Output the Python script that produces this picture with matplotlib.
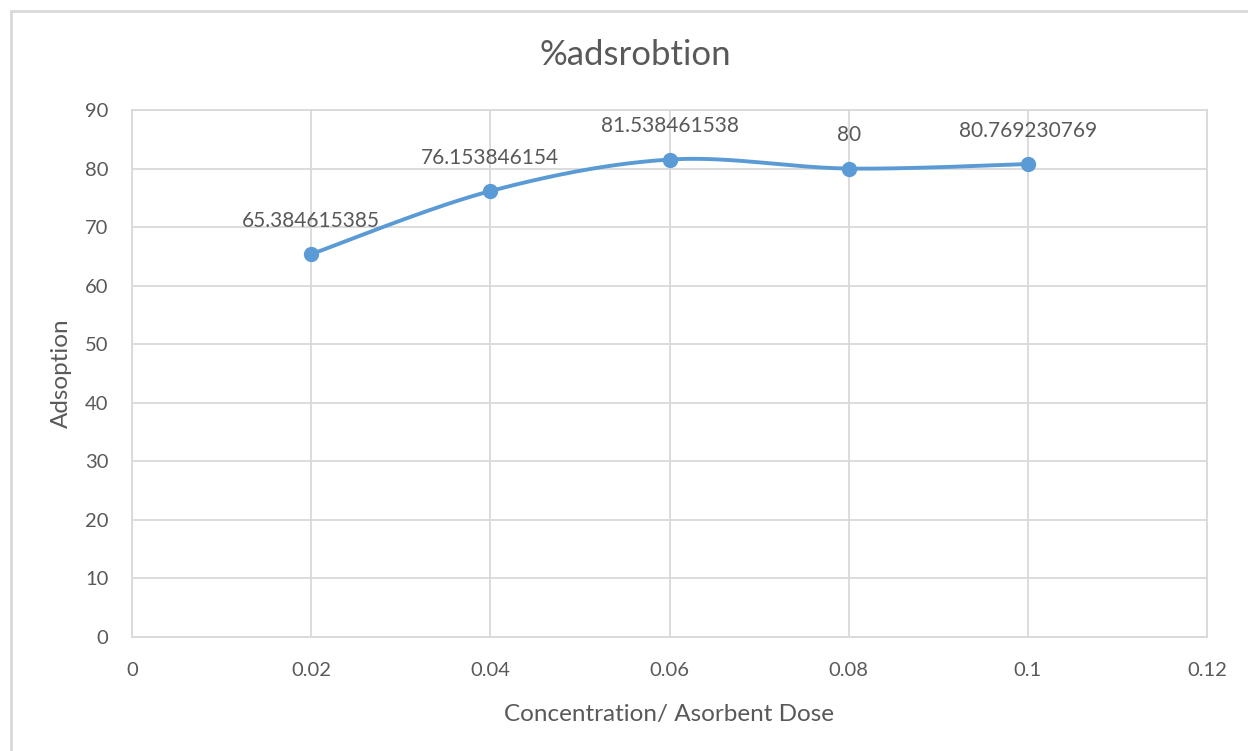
import numpy as np
import matplotlib
matplotlib.use('Agg')
import matplotlib.pyplot as plt
from matplotlib.patches import Rectangle

# adsorbent dose vs. percent adsorption
dose = [0.02, 0.04, 0.06, 0.08, 0.1]
adsorption = [65.384615385, 76.153846154, 81.538461538, 80.0, 80.769230769]
labels = ['65.384615385', '76.153846154', '81.538461538', '80', '80.769230769']

x_ticks = [0, 0.02, 0.04, 0.06, 0.08, 0.1, 0.12]
x_ticklabels = ['0', '0.02', '0.04', '0.06', '0.08', '0.1', '0.12']
y_ticks = list(range(0, 91, 10))

blue = '#5B9BD5'
text_col = '#595959'
grid_col = '#D9D9D9'

plt.rcParams['font.family'] = ['Lato', 'DejaVu Sans']


def smooth_curve(x, y, sx, sy, n=60):
    # Catmull-Rom style bezier through the points, done in screen-ish units
    px = np.asarray(x) * sx
    py = np.asarray(y) * sy
    pts = np.column_stack([px, py])
    out = []
    for i in range(len(pts) - 1):
        p0 = pts[i - 1] if i > 0 else pts[i]
        p1 = pts[i]
        p2 = pts[i + 1]
        p3 = pts[i + 2] if i + 2 < len(pts) else pts[i + 1]
        c1 = p1 + (p2 - p0) / 6.0
        c2 = p2 - (p3 - p1) / 6.0
        t = np.linspace(0, 1, n)[:, None]
        seg = ((1 - t) ** 3 * p1 + 3 * (1 - t) ** 2 * t * c1
               + 3 * (1 - t) * t ** 2 * c2 + t ** 3 * p2)
        out.append(seg if i == 0 else seg[1:])
    out = np.vstack(out)
    return out[:, 0] / sx, out[:, 1] / sy


fig = plt.figure(figsize=(12.48, 7.51), dpi=100)
fig.patches.append(Rectangle((11 / 1248, -0.05), 1.2, 1 - 11 / 751 + 0.05,
                             transform=fig.transFigure, fill=False,
                             edgecolor=grid_col, linewidth=2))

ax = fig.add_axes([132 / 1248, 1 - 637 / 751, 1075 / 1248, 527 / 751])
ax.set_xlim(0, 0.12)
ax.set_ylim(0, 90)
ax.set_xticks(x_ticks)
ax.set_xticklabels(x_ticklabels)
ax.set_yticks(y_ticks)
ax.grid(True, color=grid_col, linewidth=1.3)
ax.set_axisbelow(True)
for side in ['top', 'right', 'left', 'bottom']:
    ax.spines[side].set_color(grid_col)
    ax.spines[side].set_linewidth(1.3)
ax.tick_params(length=0, colors=text_col, labelsize=14.5)
ax.tick_params(axis='y', pad=17)
ax.tick_params(axis='x', pad=18)

sx, sy = 1075 / 0.12, 527 / 90
cx, cy = smooth_curve(dose, adsorption, sx, sy)
ax.plot(cx, cy, color=blue, linewidth=2.8, solid_capstyle='round', zorder=3)
ax.plot(dose, adsorption, 'o', color=blue, markersize=10, zorder=4)

for xv, yv, lab in zip(dose, adsorption, labels):
    ax.annotate(lab, (xv, yv), xytext=(0, 24), textcoords='offset points',
                ha='center', va='center', fontsize=15, color=text_col)

# chart title is centred on the whole chart box, not the plot area
fig.text(635 / 1248, 1 - 55 / 751, '%adsrobtion', fontsize=25,
         color=text_col, ha='center', va='center')
ax.set_xlabel('Concentration/ Asorbent Dose', fontsize=17.5, color=text_col,
              labelpad=18)
ax.set_ylabel('Adsoption', fontsize=17.5, color=text_col, labelpad=9)

fig.savefig('out.png', dpi=100)
